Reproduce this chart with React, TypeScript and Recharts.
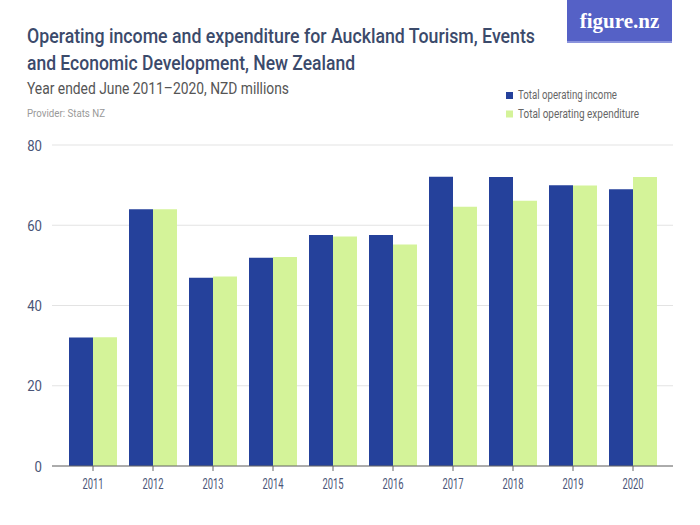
import React from 'react';
import { BarChart, Bar, XAxis, YAxis, CartesianGrid, Legend } from 'recharts';

const years = ['2011', '2012', '2013', '2014', '2015', '2016', '2017', '2018', '2019', '2020'];
const income = [32.0, 64.0, 46.9, 51.9, 57.6, 57.6, 72.1, 72.0, 70.0, 69.0];
const expenditure = [32.1, 64.0, 47.2, 52.1, 57.2, 55.2, 64.6, 66.1, 69.9, 72.0];
const yTicks = [0, 20, 40, 60, 80];
const seriesNames = ['Total operating income', 'Total operating expenditure'];

const data = years.map((y, i) => ({ year: y, income: income[i], expenditure: expenditure[i] }));

const FONT = 'Roboto, "Noto Sans", sans-serif';
const BLUE = '#25419b';
const GREEN = '#d4f399';
const TICK = '#4a5578';

const XTick = (props: any) => {
  const { x, y, payload } = props;
  const s = String(payload.value);
  return (
    <text x={x} y={y + 11} textAnchor="middle" fill={TICK} fontSize={15} fontFamily={FONT}
      textLength={s.length * 5.3} lengthAdjust="spacingAndGlyphs">{s}</text>
  );
};

const YTick = (props: any) => {
  const { x, y, payload } = props;
  const s = String(payload.value);
  return (
    <text x={x} y={y + 5.5} textAnchor="end" fill={TICK} fontSize={15} fontFamily={FONT}
      textLength={s.length * 7.4} lengthAdjust="spacingAndGlyphs">{s}</text>
  );
};

const legendWidths: Record<string, number> = {
  'Total operating income': 99,
  'Total operating expenditure': 121,
};

const LegendContent = (props: any) => {
  const payload = [...(props.payload || [])].sort(
    (a: any, b: any) => seriesNames.indexOf(a.value) - seriesNames.indexOf(b.value)
  );
  return (
    <svg width={190} height={44} style={{ display: 'block' }}>
      {payload.map((p: any, i: number) => (
        <g key={i} transform={`translate(0, ${6 + i * 18.5})`}>
          <rect x={0} y={0} width={7} height={7} fill={p.color} />
          <text x={12} y={7} fontSize={12.5} fill="#666" fontFamily={FONT}
            textLength={legendWidths[p.value]} lengthAdjust="spacingAndGlyphs">{p.value}</text>
        </g>
      ))}
    </svg>
  );
};

export default function App() {
  return (
    <div style={{ position: 'absolute', left: 0, top: 0, width: 700, height: 525, background: '#fff' }}>
      <svg width={700} height={130} style={{ position: 'absolute', left: 0, top: 0 }}>
        <text x={27} y={43} fontSize={20} fontWeight={500} fill="#3b4a6b" fontFamily={FONT}
          textLength={508} lengthAdjust="spacingAndGlyphs">Operating income and expenditure for Auckland Tourism, Events</text>
        <text x={27} y={70} fontSize={20} fontWeight={500} fill="#3b4a6b" fontFamily={FONT}
          textLength={328} lengthAdjust="spacingAndGlyphs">and Economic Development, New Zealand</text>
        <text x={27} y={94} fontSize={16} fill="#555" fontFamily={FONT}
          textLength={262} lengthAdjust="spacingAndGlyphs">Year ended June 2011–2020, NZD millions</text>
        <text x={27} y={117} fontSize={11} fill="#999" fontFamily={FONT}
          textLength={78} lengthAdjust="spacingAndGlyphs">Provider: Stats NZ</text>
        <rect x={567} y={0} width={105} height={41} fill="#5561c6" />
        <rect x={567} y={41} width={105} height={2} fill="#8a93dc" />
        <text x={619.5} y={28} textAnchor="middle" fontSize={21} fontWeight="bold" fill="#fff"
          fontFamily='"Liberation Serif", "DejaVu Serif", serif'>figure.nz</text>
      </svg>
      <div style={{ position: 'absolute', left: 0, top: 0 }}>
        <BarChart width={700} height={525} data={data} margin={{ top: 145, right: 27, bottom: 0, left: 0 }} barCategoryGap={6} barGap={0}>
          <CartesianGrid vertical={false} stroke="#e3e3e3" strokeWidth={1} />
          <XAxis
            dataKey="year"
            height={59}
            padding={{ left: 11, right: 10 }}
            axisLine={{ stroke: '#666' }}
            tickLine={{ stroke: '#666' }}
            tickSize={5}
            tickMargin={7}
            tick={<XTick />}
          />
          <YAxis
            width={52}
            domain={[0, 80]}
            ticks={yTicks}
            axisLine={false}
            tickLine={false}
            tickMargin={4}
            tick={<YTick />}
          />
          <Legend
            layout="vertical"
            verticalAlign="middle"
            align="center"
            content={<LegendContent />}
            wrapperStyle={{ position: 'absolute', left: 506, top: 86, width: 190 }}
          />
          <Bar dataKey="income" name={seriesNames[0]} fill={BLUE} isAnimationActive={false} />
          <Bar dataKey="expenditure" name={seriesNames[1]} fill={GREEN} isAnimationActive={false} />
        </BarChart>
      </div>
    </div>
  );
}
